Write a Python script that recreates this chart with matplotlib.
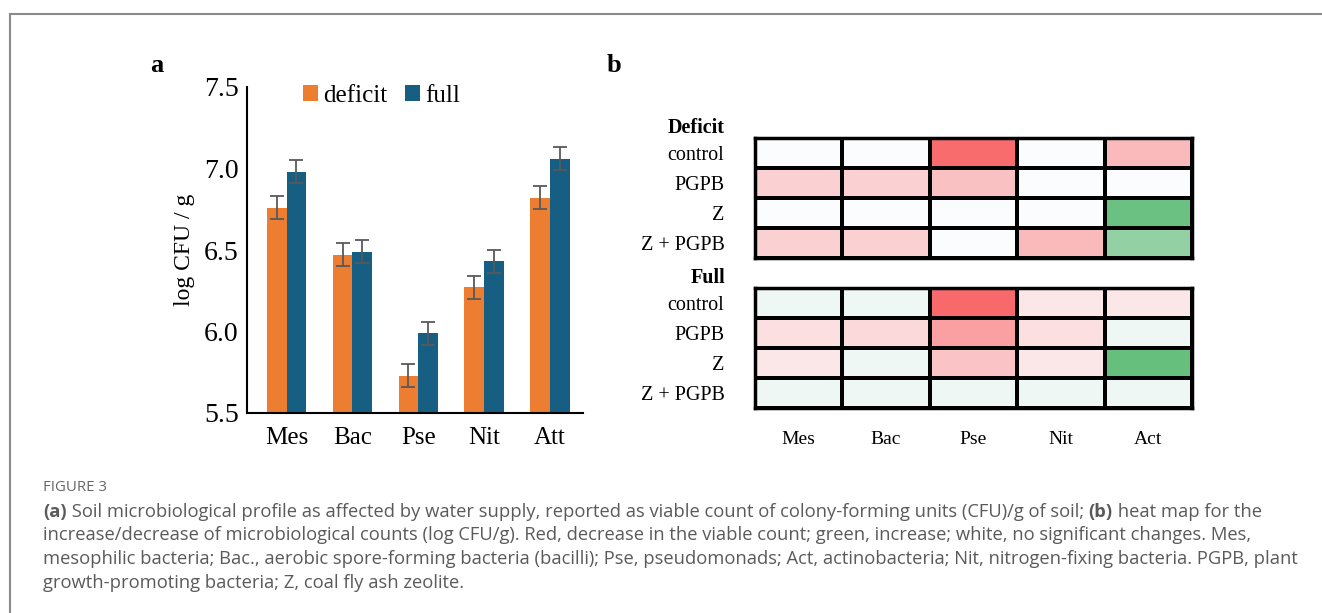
import numpy as np
import matplotlib.pyplot as plt
from matplotlib.colors import LinearSegmentedColormap

# panel a data
taxa = ['Mes', 'Bac', 'Pse', 'Nit', 'Att']
deficit = [6.76, 6.47, 5.73, 6.27, 6.82]
full = [6.98, 6.49, 5.99, 6.43, 7.06]
deficit_err = [0.07, 0.07, 0.07, 0.07, 0.07]
full_err = [0.07, 0.07, 0.07, 0.07, 0.07]

# panel b data (negative = decrease, positive = increase)
heat_cols = ['Mes', 'Bac', 'Pse', 'Nit', 'Act']
heat_rows = ['control', 'PGPB', 'Z', 'Z + PGPB']
heat_deficit = [[0.0, 0.0, -0.97, 0.0, -0.45],
                [-0.3, -0.3, -0.4, 0.0, 0.0],
                [0.0, 0.0, 0.0, 0.0, 0.95],
                [-0.3, -0.3, 0.0, -0.45, 0.68]]
heat_full = [[0.08, 0.08, -1.0, -0.15, -0.15],
             [-0.2, -0.25, -0.62, -0.2, 0.08],
             [-0.15, 0.08, -0.38, -0.15, 0.97],
             [0.08, 0.08, 0.08, 0.08, 0.08]]

caption_lines = [
    [('(a)', 'bold'), (' Soil microbiological profile as affected by water supply, reported as viable count of colony-forming units (CFU)/g of soil; ', 'normal'),
     ('(b)', 'bold'), (' heat map for the', 'normal')],
    [('increase/decrease of microbiological counts (log CFU/g). Red, decrease in the viable count; green, increase; white, no significant changes. Mes,', 'normal')],
    [('mesophilic bacteria; Bac., aerobic spore-forming bacteria (bacilli); Pse, pseudomonads; Act, actinobacteria; Nit, nitrogen-fixing bacteria. PGPB, plant', 'normal')],
    [('growth-promoting bacteria; Z, coal fly ash zeolite.', 'normal')],
]

W, H = 1322, 613
fig = plt.figure(figsize=(W / 100, H / 100), dpi=100)
serif = 'Liberation Serif'

def box(x0, y0, x1, y1):
    # pixel box (top-left origin) -> figure fraction rect
    return [x0 / W, 1 - y1 / H, (x1 - x0) / W, (y1 - y0) / H]

# frame lines of the page
fig.add_artist(plt.Line2D([10 / W, 1], [1 - 14 / H, 1 - 14 / H], color='#8a8a8a', lw=1.5))
fig.add_artist(plt.Line2D([10 / W, 10 / W], [1 - 14 / H, 0], color='#8a8a8a', lw=1.5))

# ---- panel a
ax = fig.add_axes(box(247, 87, 583, 413))
x = np.arange(len(taxa))
bw = 0.3
ax.bar(x - bw / 2, deficit, bw, color='#ED7D31', label='deficit')
ax.bar(x + bw / 2, full, bw, color='#175F82', label='full')
ax.errorbar(x - bw / 2, deficit, yerr=deficit_err, fmt='none', ecolor='#595959', elinewidth=1.3, capsize=5, capthick=1.3)
ax.errorbar(x + bw / 2, full, yerr=full_err, fmt='none', ecolor='#595959', elinewidth=1.3, capsize=5, capthick=1.3)
ax.set_ylim(5.5, 7.5)
ax.set_xlim(-0.6, 4.5)
ax.set_yticks([5.5, 6.0, 6.5, 7.0, 7.5])
ax.set_yticklabels(['5.5', '6.0', '6.5', '7.0', '7.5'])
ax.set_xticks(x)
ax.set_xticklabels(taxa)
ax.tick_params(axis='y', length=0, labelsize=20, pad=6)
ax.tick_params(axis='x', length=0, labelsize=18, pad=10)
for lab in ax.get_xticklabels() + ax.get_yticklabels():
    lab.set_family(serif)
ax.spines['top'].set_visible(False)
ax.spines['right'].set_visible(False)
ax.spines['left'].set_linewidth(1.5)
ax.spines['bottom'].set_linewidth(1.5)
ax.set_ylabel('log CFU / g', family=serif, fontsize=17)
ax.yaxis.set_label_coords(-0.155, 0.5)
ax.legend(loc='upper left', bbox_to_anchor=(0.10, 1.075), ncol=2, frameon=False,
          handlelength=0.6, handleheight=0.6, handletextpad=0.2, columnspacing=0.7,
          prop={'family': serif, 'size': 18})
fig.text(150 / W, 1 - 66 / H, 'a', family=serif, fontsize=19, weight='bold', va='center')

# ---- panel b
cmap = LinearSegmentedColormap.from_list('rwg', ['#F8696B', '#FCFCFF', '#63BE7B'])
for data, y0, head in [(heat_deficit, 138, 'Deficit'), (heat_full, 288, 'Full')]:
    hx = fig.add_axes(box(755, y0, 1192, y0 + 120))
    hx.pcolormesh(np.array(data), cmap=cmap, vmin=-1, vmax=1, edgecolors='black', linewidth=1.6)
    hx.set_xlim(0, len(heat_cols))
    hx.set_ylim(len(heat_rows), 0)
    hx.set_xticks([])
    hx.set_yticks(np.arange(len(heat_rows)) + 0.5)
    hx.set_yticklabels(heat_rows, family=serif, fontsize=14.5)
    hx.tick_params(length=0, pad=22)
    for s in hx.spines.values():
        s.set_linewidth(2.5)
    hx.text(-30 / 437, 1.0, head, transform=hx.transAxes, ha='right', va='bottom',
            family=serif, fontsize=14.5, weight='bold')
    if head == 'Full':
        for i, c in enumerate(heat_cols):
            hx.text(i + 0.5, 5.05, c, ha='center', va='center', family=serif, fontsize=14)
fig.text(607 / W, 1 - 66 / H, 'b', family=serif, fontsize=19, weight='bold', va='center')

# ---- caption
cap_font = 'Open Sans'
fig.text(43 / W, 1 - 491 / H, 'FIGURE 3', family=cap_font, fontsize=10.8, color='#666666', va='baseline')
fig.canvas.draw()
renderer = fig.canvas.get_renderer()
base_y = 517
for line in caption_lines:
    xpos = 43
    for txt, wt in line:
        t = fig.text(xpos / W, 1 - base_y / H, txt, family=cap_font, fontsize=13.2, weight=wt,
                     color='#5a5a5a', va='baseline')
        xpos += t.get_window_extent(renderer).width
    base_y += 23.5

fig.savefig('out.png', dpi=100)
